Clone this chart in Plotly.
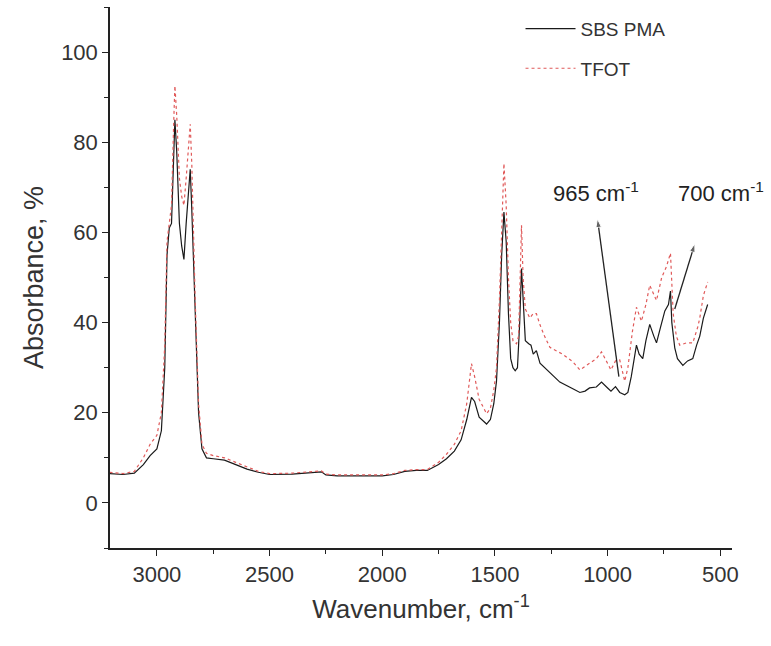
import plotly.graph_objects as go

# ---- data ----
wavenumber_sbs = [3210, 3150, 3100, 3060, 3030, 3000, 2980, 2965, 2955, 2945, 2935, 2925, 2920, 2912,
                  2900, 2890, 2880, 2870, 2860, 2852, 2845, 2830, 2815, 2800, 2780, 2750, 2720, 2700,
                  2650, 2600, 2550, 2500, 2400, 2300, 2270, 2250, 2200, 2100, 2000, 1950, 1900, 1850,
                  1800, 1750, 1715, 1680, 1650, 1625, 1604, 1590, 1570, 1537, 1520, 1505, 1493, 1480,
                  1470, 1460, 1450, 1440, 1430, 1420, 1410, 1400, 1390, 1382, 1375, 1365, 1350, 1340,
                  1330, 1316, 1300, 1280, 1256, 1212, 1150, 1123, 1100, 1080, 1050, 1027, 1000, 985,
                  965, 946, 924, 910, 895, 872, 860, 844, 830, 813, 795, 783, 765, 746, 730, 721, 715,
                  702, 690, 666, 645, 622, 605, 591, 575, 561, 556]
absorb_sbs = [6.5, 6.3, 6.6, 8.5, 10.5, 12.0, 16.0, 30.0, 55.0, 61.0, 62.0, 80.0, 85.0, 78.0,
              62.0, 57.0, 54.0, 62.0, 70.0, 74.0, 65.0, 40.0, 20.0, 12.0, 10.0, 9.8, 9.6, 9.5,
              8.5, 7.5, 6.8, 6.3, 6.4, 6.8, 6.9, 6.2, 6.0, 6.0, 6.0, 6.3, 7.0, 7.2,
              7.2, 8.5, 9.8, 11.5, 14.0, 18.5, 23.4, 22.5, 19.0, 17.5, 18.5, 22.0, 27.0, 40.0,
              55.0, 64.5, 58.0, 42.0, 32.0, 30.0, 29.3, 30.0, 40.0, 52.0, 44.0, 36.0, 35.3, 35.0,
              33.0, 33.8, 31.0, 30.0, 29.0, 26.8, 25.2, 24.5, 24.8, 25.5, 25.7, 26.8, 25.5, 24.8,
              25.8, 24.5, 24.0, 24.5, 28.0, 35.0, 33.0, 32.0, 36.0, 39.6, 37.0, 35.5, 39.0, 42.6, 44.0, 47.0, 40.0,
              34.4, 32.0, 30.5, 31.5, 32.0, 35.0, 37.0, 41.0, 43.4, 44.0]

wavenumber_tfot = [3210, 3150, 3100, 3060, 3030, 3000, 2980, 2965, 2955, 2945, 2935, 2925, 2920, 2912,
                   2900, 2890, 2880, 2870, 2860, 2852, 2845, 2830, 2815, 2800, 2780, 2750, 2720, 2700,
                   2650, 2600, 2550, 2500, 2400, 2300, 2270, 2250, 2200, 2100, 2000, 1950, 1900, 1850,
                   1800, 1750, 1715, 1680, 1650, 1625, 1604, 1590, 1570, 1537, 1520, 1505, 1493, 1480,
                   1470, 1460, 1450, 1440, 1430, 1420, 1404, 1395, 1388, 1382, 1375, 1365, 1345, 1330,
                   1316, 1300, 1280, 1256, 1200, 1154, 1123, 1080, 1050, 1027, 1000, 985, 965, 946,
                   924, 910, 890, 872, 850, 830, 813, 783, 760, 739, 721, 709, 695, 680, 650, 622,
                   600, 591, 575, 561, 556]
absorb_tfot = [6.8, 6.5, 7.0, 10.0, 13.0, 15.0, 20.0, 35.0, 58.0, 62.0, 66.0, 85.0, 92.5, 86.0,
               72.0, 68.0, 66.0, 72.0, 80.0, 84.0, 75.0, 45.0, 22.0, 13.0, 11.0, 10.5, 10.2, 10.0,
               9.0, 8.0, 7.0, 6.5, 6.6, 7.0, 7.1, 6.4, 6.2, 6.2, 6.2, 6.5, 7.2, 7.4,
               7.4, 9.0, 10.8, 13.0, 16.0, 22.0, 30.9, 28.0, 23.0, 19.8, 21.0, 25.0, 30.0, 45.0,
               62.0, 75.3, 66.0, 50.0, 40.0, 36.0, 35.3, 37.0, 50.0, 61.6, 50.0, 43.0, 41.0, 42.0,
               42.0, 39.5, 37.0, 34.5, 33.0, 31.3, 29.5, 31.0, 32.0, 33.5, 31.0, 29.5, 31.5, 31.7,
               27.0, 30.0, 38.0, 43.4, 40.3, 44.0, 48.3, 44.9, 50.0, 52.4, 55.4, 42.0, 37.0, 35.0, 35.5, 35.5,
               39.0, 41.0, 46.0, 48.6, 49.0]

# annotation arrows: [tail (on spectrum), head (at label)]
arrow_965_x = [950, 1045]
arrow_965_y = [28, 63]
arrow_700_x = [702, 613]
arrow_700_y = [43, 57.5]
label_x = [1050, 495]
label_y = [69, 69]
label_text = ["965 cm<sup>-1</sup>", "700 cm<sup>-1</sup>"]

x_ticks = [3000, 2500, 2000, 1500, 1000, 500]
y_ticks = [0, 20, 40, 60, 80, 100]

FONT = "Liberation Sans, Arial, sans-serif"
TXT = "#333333"

fig = go.Figure()
fig.add_trace(go.Scatter(x=wavenumber_sbs, y=absorb_sbs, mode="lines", name="SBS PMA",
                         legendgroup="a",
                         line=dict(color="#1a1a1a", width=1.2)))
fig.add_trace(go.Scatter(x=wavenumber_tfot, y=absorb_tfot, mode="lines", name="TFOT",
                         legendgroup="b",
                         line=dict(color="#e05a5a", width=1.2, dash="dot")))

for ax_x, ax_y in [(arrow_965_x, arrow_965_y), (arrow_700_x, arrow_700_y)]:
    fig.add_trace(go.Scatter(x=ax_x, y=ax_y, mode="lines+markers", showlegend=False,
                             hoverinfo="skip",
                             line=dict(color="#222222", width=1.3),
                             marker=dict(symbol="arrow", size=[0, 9], angleref="previous",
                                         color="#222222")))

for lx, ly, lt in zip(label_x, label_y, label_text):
    fig.add_annotation(x=lx, y=ly, text=lt, showarrow=False,
                       font=dict(family=FONT, size=22, color="#222"))

axis_common = dict(showgrid=False, zeroline=False, showline=True, linecolor="#222",
                   linewidth=1.5, ticks="outside", ticklen=6, tickwidth=1.2, tickcolor="#222",
                   tickfont=dict(family=FONT, size=22, color=TXT))

fig.update_xaxes(range=[3208, 448], tickvals=x_ticks,
                 minor=dict(dtick=250, ticks="outside", ticklen=4, tickcolor="#222", tickwidth=1.2),
                 title=dict(text="Wavenumber, cm<sup>-1</sup>", font=dict(family=FONT, size=26, color=TXT),
                            standoff=14),
                 **axis_common)
fig.update_yaxes(range=[-10, 110], tickvals=y_ticks,
                 minor=dict(dtick=10, ticks="outside", ticklen=4, tickcolor="#222", tickwidth=1.2),
                 title=dict(text="Absorbance, %", font=dict(family=FONT, size=27, color=TXT),
                            standoff=10),
                 **axis_common)

fig.update_layout(
    width=771, height=646,
    margin=dict(l=110, r=39, t=7, b=98),
    paper_bgcolor="white", plot_bgcolor="white",
    legend=dict(x=0.66, y=0.995, xanchor="left", yanchor="top", bgcolor="rgba(0,0,0,0)",
                font=dict(family=FONT, size=19, color=TXT), tracegroupgap=12, itemwidth=50),
    showlegend=True,
)

fig.write_html("out.html")
